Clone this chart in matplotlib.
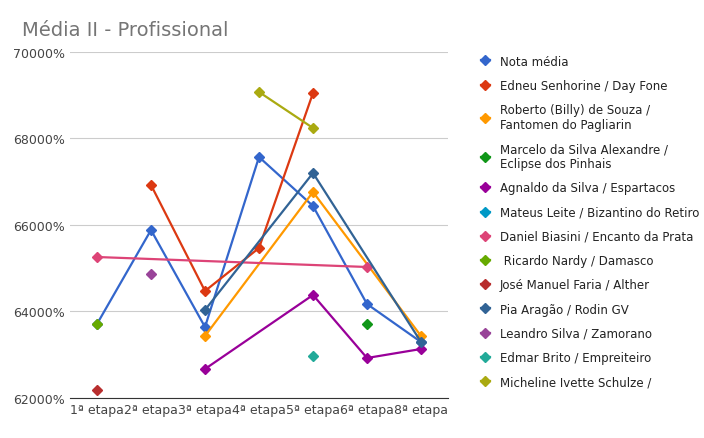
import numpy as np
import matplotlib.pyplot as plt

etapas = ['1ª etapa', '2ª etapa', '3ª etapa', '4ª etapa', '5ª etapa', '6ª etapa', '8ª etapa']
N = None
series = [
    ('Nota média', '#3366cc', [63711, 65884, 63642, 67572, 66439, 64173, 63295]),
    ('Edneu Senhorine / Day Fone', '#dc3912', [N, 66925, 64474, 65468, 69052, N, N]),
    ('Roberto (Billy) de Souza /\nFantomen do Pagliarin', '#ff9900', [N, N, 63434, N, 66763, N, 63434]),
    ('Marcelo da Silva Alexandre /\nEclipse dos Pinhais', '#109618', [N, N, N, N, N, 63711, N]),
    ('Agnaldo da Silva / Espartacos', '#990099', [N, N, 62671, N, 64382, 62925, 63133]),
    ('Mateus Leite / Bizantino do Retiro', '#0099c6', [N, N, N, N, N, N, N]),
    ('Daniel Biasini / Encanto da Prata', '#dd4477', [65260, N, N, N, N, 65029, N]),
    (' Ricardo Nardy / Damasco', '#66aa00', [63711, N, N, N, N, N, N]),
    ('José Manuel Faria / Alther', '#b82e2e', [62185, N, N, N, N, N, N]),
    ('Pia Aragão / Rodin GV', '#316395', [N, N, 64035, N, 67202, N, 63295]),
    ('Leandro Silva / Zamorano', '#994499', [N, 64867, N, N, N, N, N]),
    ('Edmar Brito / Empreiteiro', '#22aa99', [N, N, N, N, 62971, N, N]),
    ('Micheline Ivette Schulze /', '#aaaa11', [N, N, N, 69075, 68243, N, N]),
]

fig = plt.figure(figsize=(7.04, 4.39), dpi=100)
ax = fig.add_axes([70 / 704, 40 / 439, 378 / 704, 346 / 439])
x = np.arange(len(etapas))
for name, color, vals in series:
    xs = [i for i, v in zip(x, vals) if v is not None]
    ys = [v for v in vals if v is not None]
    ax.plot(xs, ys, color=color, lw=1.6, marker='D', ms=5, label=name)

ax.set_ylim(62000, 70000)
ax.set_yticks(range(62000, 70001, 2000))
ax.set_yticklabels([f'{v}%' for v in range(62000, 70001, 2000)])
ax.set_xlim(-0.5, 6.5)
ax.set_xticks(x)
ax.set_xticklabels(etapas)
ax.tick_params(length=0, labelsize=9, colors='#444444')
ax.grid(axis='y', color='#cccccc', lw=0.8)
for s in ax.spines.values():
    s.set_visible(False)
ax.spines['bottom'].set_visible(True)
ax.spines['bottom'].set_color('#333333')

fig.text(22 / 704, 1 - 30 / 439, 'Média II - Profissional', fontsize=14, color='#757575', va='center')
fig.legend(*ax.get_legend_handles_labels(), loc='upper left', bbox_to_anchor=(470 / 704, 1 - 45 / 439),
           frameon=False, fontsize=8.5, labelcolor='#222222', handlelength=0.8,
           handletextpad=0.8, labelspacing=0.95)
fig.savefig('out.png')
